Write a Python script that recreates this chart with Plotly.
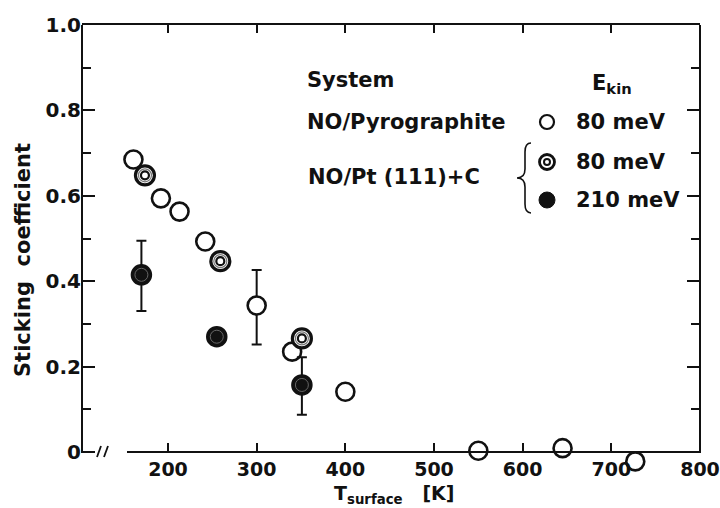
import plotly.graph_objects as go

# ---- data ----
pyro_T = [161, 192, 213, 242, 300, 340, 400, 550, 645, 727]
pyro_S = [0.685, 0.594, 0.563, 0.493, 0.343, 0.235, 0.141, 0.003, 0.009, -0.022]
pyro_err_plus = [0, 0, 0, 0, 0.083, 0, 0, 0, 0, 0]
pyro_err_minus = [0, 0, 0, 0, 0.091, 0, 0, 0, 0, 0]

pt80_T = [174, 259, 351]
pt80_S = [0.648, 0.447, 0.266]

pt210_T = [170, 255, 351]
pt210_S = [0.415, 0.27, 0.157]
pt210_err_plus = [0.08, 0, 0.065]
pt210_err_minus = [0.085, 0, 0.07]

x_ticks = [200, 300, 400, 500, 600, 700, 800]
y_ticks = [0, 0.2, 0.4, 0.6, 0.8, 1.0]
y_ticklabels = ["0", "0.2", "0.4", "0.6", "0.8", "1.0"]

FONT = "DejaVu Sans"
BLACK = "#111111"

# geometry (pixels): plot top 25, y=0 at 452, data area extended down to 470
TOP, ZERO, BOT, LEFT, RIGHT = 25, 452, 470, 82, 700
delta = (BOT - ZERO) / (BOT - TOP)
r0 = -delta / (1 - delta)


def px2paper_x(px):
    return (px - LEFT) / (RIGHT - LEFT)


def px2paper_y(py):
    return (BOT - py) / (BOT - TOP)


fig = go.Figure()

# open circles: NO/Pyrographite
fig.add_trace(go.Scatter(
    x=pyro_T, y=pyro_S, mode="markers", cliponaxis=False,
    marker=dict(symbol="circle", size=18, color="white", line=dict(color=BLACK, width=2.6)),
    error_y=dict(type="data", symmetric=False, array=pyro_err_plus, arrayminus=pyro_err_minus,
                 color=BLACK, thickness=2, width=5),
    showlegend=False))

# double circles: NO/Pt(111)+C 80 meV
fig.add_trace(go.Scatter(
    x=pt80_T, y=pt80_S, mode="markers", cliponaxis=False,
    marker=dict(symbol="circle", size=19, color="white", line=dict(color=BLACK, width=3.2)),
    showlegend=False))
fig.add_trace(go.Scatter(
    x=pt80_T, y=pt80_S, mode="markers", cliponaxis=False,
    marker=dict(symbol="circle-open", size=13, color="#777777", line=dict(color="#777777", width=1.2)),
    showlegend=False, hoverinfo="skip"))
fig.add_trace(go.Scatter(
    x=pt80_T, y=pt80_S, mode="markers", cliponaxis=False,
    marker=dict(symbol="circle-open", size=8, color=BLACK, line=dict(color=BLACK, width=2.2)),
    showlegend=False, hoverinfo="skip"))

# filled circles: NO/Pt(111)+C 210 meV
fig.add_trace(go.Scatter(
    x=pt210_T, y=pt210_S, mode="markers", cliponaxis=False,
    marker=dict(symbol="circle", size=20, color=BLACK, line=dict(color=BLACK, width=1.5)),
    error_y=dict(type="data", symmetric=False, array=pt210_err_plus, arrayminus=pt210_err_minus,
                 color=BLACK, thickness=2, width=5),
    showlegend=False))
fig.add_trace(go.Scatter(
    x=pt210_T, y=pt210_S, mode="markers", cliponaxis=False,
    marker=dict(symbol="circle-open", size=13, color="#666666", line=dict(color="#666666", width=1)),
    showlegend=False, hoverinfo="skip"))

# ---- legend markers on an overlay axis that maps to paper (0..1) ----
lx = [px2paper_x(547)]
fig.add_trace(go.Scatter(x=lx, y=[px2paper_y(122)], xaxis="x2", yaxis="y2", mode="markers",
                         marker=dict(symbol="circle", size=14, color="white", line=dict(color=BLACK, width=2.2)),
                         showlegend=False, hoverinfo="skip", cliponaxis=False))
fig.add_trace(go.Scatter(x=lx, y=[px2paper_y(162)], xaxis="x2", yaxis="y2", mode="markers",
                         marker=dict(symbol="circle", size=15, color="white", line=dict(color=BLACK, width=2.8)),
                         showlegend=False, hoverinfo="skip", cliponaxis=False))
fig.add_trace(go.Scatter(x=lx, y=[px2paper_y(162)], xaxis="x2", yaxis="y2", mode="markers",
                         marker=dict(symbol="circle-open", size=6, color=BLACK, line=dict(color=BLACK, width=2)),
                         showlegend=False, hoverinfo="skip", cliponaxis=False))
fig.add_trace(go.Scatter(x=lx, y=[px2paper_y(200)], xaxis="x2", yaxis="y2", mode="markers",
                         marker=dict(symbol="circle", size=16, color=BLACK, line=dict(color=BLACK, width=1)),
                         showlegend=False, hoverinfo="skip", cliponaxis=False))

tickfont = dict(family=FONT, size=19, color=BLACK, weight="bold")
x_range = [103, 800]

fig.update_layout(
    width=720, height=508,
    margin=dict(l=LEFT, r=720 - RIGHT, t=TOP, b=508 - BOT, autoexpand=False),
    paper_bgcolor="white", plot_bgcolor="white",
    showlegend=False,
    xaxis=dict(range=x_range, tickvals=x_ticks, ticktext=[str(v) for v in x_ticks],
               ticks="inside", ticklen=8, tickwidth=1.5, tickcolor=BLACK,
               anchor="free", position=delta, ticklabeloverflow="allow",
               showline=True, linecolor=BLACK, linewidth=2,
               showgrid=False, zeroline=False, tickfont=tickfont, ticklabelstandoff=0),
    xaxis3=dict(range=x_range, tickvals=x_ticks, overlaying="x", side="top", anchor="y",
                ticks="inside", ticklen=8, tickwidth=1.5, tickcolor=BLACK, showticklabels=False,
                showline=True, linecolor=BLACK, linewidth=2, showgrid=False, zeroline=False),
    yaxis=dict(range=[r0, 1.0], tickvals=y_ticks, ticktext=y_ticklabels,
               ticks="inside", ticklen=13, tickwidth=1.5, tickcolor=BLACK,
               minor=dict(tick0=0, dtick=0.1, ticks="inside", ticklen=9, tickwidth=1.5, tickcolor=BLACK),
               showline=False, mirror="ticks", ticklabeloverflow="allow",
               showgrid=False, zeroline=False, tickfont=dict(family=FONT, size=20, color=BLACK, weight="bold")),
    xaxis2=dict(range=[0, 1], overlaying="x", visible=False),
    yaxis2=dict(range=[0, 1], overlaying="y", visible=False),
)
# invisible trace to activate the top axis
fig.add_trace(go.Scatter(x=[x_range[0]], y=[0.5], xaxis="x3", yaxis="y", mode="markers",
                         marker=dict(opacity=0), showlegend=False, hoverinfo="skip"))

# left and right axis lines (from y=0 up to 1.0)
for xp in (0, 1):
    fig.add_shape(type="line", xref="paper", yref="paper", x0=xp, x1=xp,
                  y0=px2paper_y(ZERO) - 0.002, y1=1, line=dict(color=BLACK, width=2))

annot_font = dict(family=FONT, size=21, color=BLACK, weight="bold")
ann = [
    dict(text="System", x=px2paper_x(305), y=px2paper_y(80), xanchor="left"),
    dict(text="E<sub>kin</sub>", x=px2paper_x(590), y=px2paper_y(84), xanchor="left"),
    dict(text="NO/Pyrographite", x=px2paper_x(305), y=px2paper_y(122), xanchor="left"),
    dict(text="80 meV", x=px2paper_x(574), y=px2paper_y(122), xanchor="left"),
    dict(text="NO/Pt (111)+C", x=px2paper_x(306), y=px2paper_y(177), xanchor="left"),
    dict(text="80 meV", x=px2paper_x(574), y=px2paper_y(162), xanchor="left"),
    dict(text="210 meV", x=px2paper_x(574), y=px2paper_y(200), xanchor="left"),
    dict(text="T<sub>surface</sub>   [K]", x=px2paper_x(394), y=px2paper_y(495), xanchor="center",
         font=dict(family=FONT, size=19, color=BLACK, weight="bold")),
    dict(text="Sticking  coefficient", x=px2paper_x(23), y=px2paper_y(260), xanchor="center",
         textangle=-90),
]
for a in ann:
    f = a.pop("font", annot_font)
    fig.add_annotation(xref="paper", yref="paper", yanchor="middle", showarrow=False,
                       font=f, **a)

# brace
bx, tip = px2paper_x(525), px2paper_x(517)
end = px2paper_x(531)
yt, ym, yb = px2paper_y(143), px2paper_y(178), px2paper_y(213)
d = 0.02
path = (f"M {end},{yt} Q {bx},{yt} {bx},{yt-d} L {bx},{ym+d} Q {bx},{ym} {tip},{ym} "
        f"Q {bx},{ym} {bx},{ym-d} L {bx},{yb+d} Q {bx},{yb} {end},{yb}")
fig.add_shape(type="path", path=path, xref="paper", yref="paper",
              line=dict(color=BLACK, width=1.6))

# axis break on the bottom axis
fig.add_shape(type="rect", xref="paper", yref="paper",
              x0=px2paper_x(95), x1=px2paper_x(127), y0=px2paper_y(456), y1=px2paper_y(448),
              fillcolor="white", line=dict(width=0), layer="above")
for sx in (99, 106):
    fig.add_shape(type="line", xref="paper", yref="paper",
                  x0=px2paper_x(sx - 2), y0=px2paper_y(457), x1=px2paper_x(sx + 2), y1=px2paper_y(446),
                  line=dict(color=BLACK, width=1.8))

fig.write_html("out.html")
